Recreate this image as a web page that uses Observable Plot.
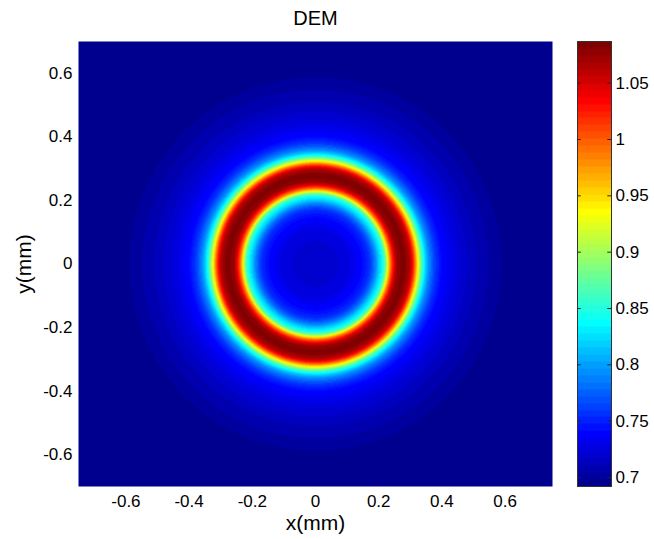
<!DOCTYPE html>
<html>
<head>
<meta charset="utf-8">
<script src="https://cdn.jsdelivr.net/npm/d3@7"></script>
<script src="https://cdn.jsdelivr.net/npm/@observablehq/plot@0.6"></script>
<style>
  html, body { margin: 0; padding: 0; background: #fff; }
  #wrap { position: relative; width: 654px; height: 539px; font-family: "Liberation Sans", Arial, sans-serif; }
  #wrap svg { position: absolute; top: 0; }
</style>
</head>
<body>
<div id="wrap"></div>
<script>
// ---- data ----
const title = "DEM";
const xLabel = "x(mm)";
const yLabel = "y(mm)";
const xDomain = [-0.75, 0.75];
const yDomain = [-0.7, 0.7];
const xTicks = [-0.6, -0.4, -0.2, 0, 0.2, 0.4, 0.6];
const yTicks = [-0.6, -0.4, -0.2, 0, 0.2, 0.4, 0.6];
const colorTicks = [0.7, 0.75, 0.8, 0.85, 0.9, 0.95, 1, 1.05];
const colorDomain = [0.692, 1.087];
// radial profile of DEM (radius in mm -> value)
const radius = [0.00, 0.05, 0.10, 0.12, 0.15, 0.17, 0.18, 0.19, 0.20, 0.21, 0.22, 0.225, 0.23, 0.24, 0.25, 0.26, 0.28, 0.30, 0.31, 0.32, 0.33, 0.34, 0.35, 0.36, 0.38, 0.40, 0.45, 0.50, 0.55, 0.58, 0.62, 0.70, 1.10];
const dem    = [0.722, 0.721, 0.725, 0.732, 0.742, 0.755, 0.770, 0.790, 0.815, 0.835, 0.870, 0.900, 0.945, 1.005, 1.050, 1.076, 1.086, 1.062, 1.020, 0.960, 0.900, 0.850, 0.815, 0.790, 0.758, 0.740, 0.724, 0.712, 0.704, 0.699, 0.695, 0.694, 0.693];

// ---- MATLAB jet(64) colour map ----
function jet64() {
  const m = 64, n = 16;
  const u = [];
  for (let k = 1; k <= n; k++) u.push(k / n);
  for (let k = 1; k <= n - 1; k++) u.push(1);
  for (let k = n; k >= 1; k--) u.push(k / n);
  const L = u.length;
  const base = Math.ceil(n / 2);
  const J = Array.from({length: m}, () => [0, 0, 0]);
  const g = [], r = [], b = [];
  for (let k = 1; k <= L; k++) { const gi = base + k; g.push(gi); r.push(gi + n); b.push(gi - n); }
  const rr = r.filter(i => i <= m), gg = g.filter(i => i <= m), bb = b.filter(i => i >= 1);
  rr.forEach((i, k) => J[i - 1][0] = u[k]);
  gg.forEach((i, k) => J[i - 1][1] = u[k]);
  bb.forEach((i, k) => J[i - 1][2] = u[L - bb.length + k]);
  return J.map(([R, G, B]) => `rgb(${Math.round(R * 255)},${Math.round(G * 255)},${Math.round(B * 255)})`);
}
const JET = jet64();
const jetInterp = t => JET[Math.max(0, Math.min(63, Math.floor(t * 64)))];

function profile(r) {
  if (r <= radius[0]) return dem[0];
  for (let i = 1; i < radius.length; i++) {
    if (r <= radius[i]) {
      const f = (r - radius[i - 1]) / (radius[i] - radius[i - 1]);
      return dem[i - 1] + f * (dem[i] - dem[i - 1]);
    }
  }
  return dem[dem.length - 1];
}

const fmt = d => String(d);
const colorScale = {type: "linear", domain: colorDomain, interpolate: () => jetInterp, clamp: true};
const font = {fontFamily: "Liberation Sans, Arial, sans-serif", background: "transparent", overflow: "visible"};

const main = Plot.plot({
  width: 560, height: 539,
  marginLeft: 78, marginRight: 8, marginTop: 41, marginBottom: 53,
  style: {...font, fontSize: "17px"},
  x: {domain: xDomain},
  y: {domain: yDomain},
  color: colorScale,
  marks: [
    Plot.raster({fill: (x, y) => profile(Math.hypot(x, y)), x1: xDomain[0], x2: xDomain[1], y1: yDomain[0], y2: yDomain[1], pixelSize: 1}),
    Plot.axisX({ticks: xTicks, tickSize: 0, tickPadding: 8, tickFormat: fmt, label: null, fontSize: 17, fill: "black"}),
    Plot.axisY({ticks: yTicks, tickSize: 0, tickPadding: 6, tickFormat: fmt, label: null, fontSize: 17, fill: "black"}),
    Plot.text([title], {frameAnchor: "top", textAnchor: "middle", lineAnchor: "middle", dy: -23, fontSize: 20, fill: "black"}),
    Plot.text([xLabel], {frameAnchor: "bottom", textAnchor: "middle", lineAnchor: "middle", dy: 37, fontSize: 21, fill: "black"}),
    Plot.text([yLabel], {frameAnchor: "left", textAnchor: "middle", lineAnchor: "middle", rotate: -90, dx: -54, fontSize: 21, fill: "black"})
  ]
});
main.style.left = "0px";

const cbar = Plot.plot({
  width: 94, height: 539,
  marginLeft: 17, marginRight: 43, marginTop: 41, marginBottom: 53,
  style: {...font, fontSize: "17px"},
  x: {domain: [0, 1], axis: null},
  y: {domain: colorDomain},
  color: colorScale,
  marks: [
    Plot.raster({fill: (x, y) => y, x1: 0, x2: 1, y1: colorDomain[0], y2: colorDomain[1], pixelSize: 1}),
    Plot.ruleY(colorTicks, {x1: 0, x2: 0.11, stroke: "#222"}),
    Plot.ruleY(colorTicks, {x1: 0.89, x2: 1, stroke: "#222"}),
    Plot.frame({stroke: "#333"}),
    Plot.axisY({anchor: "right", ticks: colorTicks, tickSize: 0, tickPadding: 4, tickFormat: fmt, label: null, fontSize: 17, fill: "black"})
  ]
});
cbar.style.left = "560px";

document.getElementById("wrap").append(main, cbar);
</script>
</body>
</html>
